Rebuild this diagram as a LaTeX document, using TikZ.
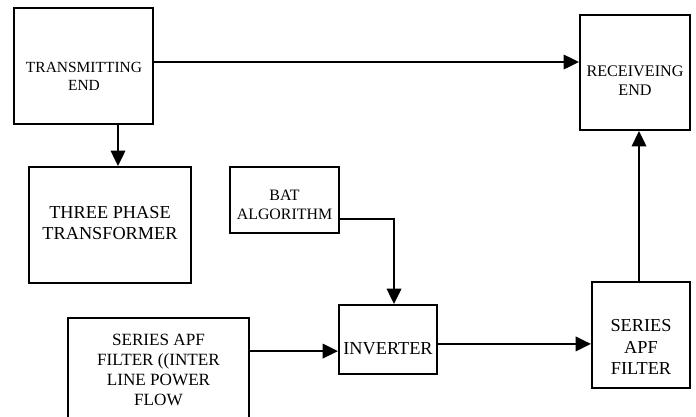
\documentclass[tikz,border=0pt]{standalone}
\usepackage{fontspec}
\setmainfont{Liberation Serif}
\usetikzlibrary{arrows.meta, positioning, calc}

\begin{document}
\begin{tikzpicture}[
            x=0.025cm, y=-0.025cm,
            blk/.style={draw=black, line width=1.5pt, inner sep=0pt},
            lbl/.style={align=center, inner sep=0pt},
            arr/.style={-{Triangle[length=0.38cm, width=0.36cm]}, line width=1.5pt},
        ]
        \useasboundingbox (0,0) rectangle (696,416);

        % boxes
        \node[blk, minimum width=3.475cm, minimum height=2.9cm] (te) at (83.5, 66) {};
        \node[blk, minimum width=2.75cm, minimum height=2.875cm] (re) at (635, 72.5) {};
        \node[blk, minimum width=4.05cm, minimum height=2.9cm] (tpt) at (110, 225) {};
        \node[blk, minimum width=2.725cm, minimum height=1.65cm] (bat) at (284.5, 200) {};
        \node[blk, minimum width=2.45cm, minimum height=1.725cm] (inv) at (388, 339.5) {};
        \node[blk, minimum width=4.525cm, minimum height=3.05cm] (sil) at (158.5, 379) {};
        \node[blk, minimum width=2.45cm, minimum height=2.65cm] (saf) at (641, 335) {};

        % texts
        \node[lbl, font=\fontsize{11}{12.8}\selectfont] (te-l) at (84, 76) {TRANSMITTING\\END};
        \node[lbl, font=\fontsize{11.5}{13.4}\selectfont] (re-l) at (635, 80.5) {RECEIVEING\\END};
        \node[lbl, font=\fontsize{13}{15.2}\selectfont] (tpt-l) at (110, 223) {THREE PHASE\\TRANSFORMER};
        \node[lbl, font=\fontsize{11.3}{13.4}\selectfont] (bat-l) at (284.5, 204.5) {BAT\\ALGORITHM};
        \node[lbl, font=\fontsize{13}{15}\selectfont] (inv-l) at (388, 349) {INVERTER};
        \node[lbl, font=\fontsize{12.2}{14.3}\selectfont] (sil-l) at (158.5, 370) {SERIES APF\\FILTER ((INTER\\LINE POWER\\FLOW};
        \node[lbl, font=\fontsize{13}{15.2}\selectfont] (saf-l) at (641, 347) {SERIES\\APF\\FILTER};

        % connectors
        \draw[arr] ([yshift=0.1cm]te.east) -- ([yshift=0.1cm]te.east -| re.west);
        \draw[arr] ([xshift=0.2cm]tpt.north |- te.south) -- ([xshift=0.2cm]tpt.north);
        \draw[arr] ([yshift=-0.475cm]bat.east) -| ([xshift=0.15cm]inv.north);
        \draw[arr] ([yshift=-0.29cm]inv.west -| sil.east) -- ([yshift=-0.29cm]inv.west);
        \draw[arr] ([yshift=-0.11cm]inv.east) -- ([yshift=-0.11cm]inv.east -| saf.west);
        \draw[arr] ([xshift=-0.05cm]saf.north) -- ([xshift=-0.05cm]saf.north |- re.south);
    \end{tikzpicture}
\end{document}
